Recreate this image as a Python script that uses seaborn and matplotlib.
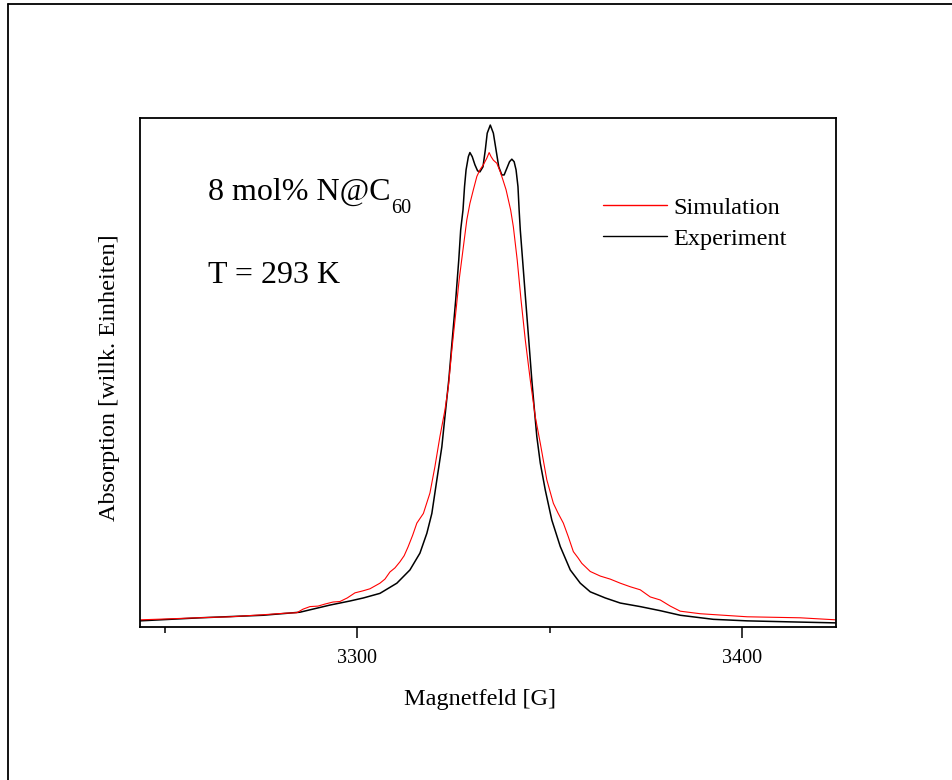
import matplotlib
matplotlib.use("Agg")
import matplotlib.pyplot as plt
from matplotlib.lines import Line2D
import seaborn as sns
import pandas as pd

# EPR absorption spectrum of N@C60 (8 mol%) at room temperature
field_exp = [3243.5, 3259.1, 3275.5, 3285.1, 3292.9, 3298.1, 3301.6, 3305.9, 3310.3,
             3313.7, 3316.3, 3318.1, 3319.4, 3320.7, 3322.0, 3322.8, 3323.8, 3324.7,
             3325.6, 3326.4, 3326.9, 3327.5, 3327.9, 3328.3, 3328.9, 3329.3, 3329.9,
             3330.6, 3331.3, 3331.9, 3332.7, 3333.3, 3333.8, 3334.6, 3335.4, 3336.1,
             3336.8, 3337.6, 3338.2, 3338.9, 3339.6, 3340.2, 3340.8, 3341.3, 3341.8,
             3342.1, 3342.4, 3343.0, 3343.8, 3344.6, 3345.4, 3346.0, 3346.7, 3347.6,
             3348.9, 3350.6, 3352.8, 3355.4, 3358.0, 3360.6, 3364.5, 3368.4, 3373.6,
             3378.8, 3384.0, 3392.6, 3401.4, 3412.6, 3424.5]
absorb_exp = [0.012, 0.018, 0.023, 0.029, 0.043, 0.051, 0.057, 0.066, 0.086,
              0.112, 0.145, 0.184, 0.223, 0.289, 0.354, 0.413, 0.485, 0.564,
              0.642, 0.721, 0.780, 0.819, 0.865, 0.898, 0.924, 0.932, 0.924,
              0.908, 0.896, 0.894, 0.904, 0.937, 0.970, 0.986, 0.970, 0.937,
              0.904, 0.888, 0.888, 0.901, 0.914, 0.919, 0.914, 0.898, 0.865,
              0.819, 0.780, 0.721, 0.642, 0.564, 0.485, 0.433, 0.374, 0.322,
              0.269, 0.210, 0.158, 0.112, 0.086, 0.069, 0.057, 0.047, 0.040,
              0.032, 0.023, 0.015, 0.012, 0.010, 0.008]

field_sim = [3243.5, 3251.3, 3258.3, 3266.9, 3275.5, 3281.2, 3284.3, 3285.9, 3287.7,
             3289.8, 3291.6, 3293.7, 3295.5, 3297.4, 3299.4, 3301.5, 3303.3, 3305.9,
             3307.2, 3308.5, 3309.8, 3311.1, 3312.2, 3313.2, 3314.4, 3315.5, 3317.2,
             3318.9, 3320.2, 3321.5, 3322.8, 3323.7, 3324.6, 3325.7, 3326.5, 3327.5,
             3328.5, 3329.3, 3330.2, 3331.1, 3331.9, 3332.8, 3333.7, 3334.3, 3334.8,
             3335.4, 3336.3, 3337.2, 3337.9, 3338.7, 3339.3, 3339.9, 3340.6, 3341.6,
             3342.6, 3343.7, 3345.0, 3346.3, 3347.6, 3349.3, 3351.0, 3352.2, 3353.6,
             3354.9, 3356.2, 3357.4, 3358.4, 3360.6, 3363.2, 3365.8, 3368.4, 3371.0,
             3373.6, 3376.2, 3378.8, 3381.4, 3384.0, 3389.2, 3401.4, 3415.2, 3424.5]
absorb_sim = [0.014, 0.016, 0.018, 0.020, 0.024, 0.027, 0.028, 0.035, 0.040,
              0.041, 0.045, 0.049, 0.050, 0.057, 0.067, 0.071, 0.075, 0.086,
              0.094, 0.108, 0.116, 0.128, 0.140, 0.157, 0.180, 0.204, 0.223,
              0.263, 0.315, 0.374, 0.426, 0.472, 0.544, 0.623, 0.682, 0.741,
              0.800, 0.832, 0.859, 0.885, 0.898, 0.908, 0.921, 0.932, 0.924,
              0.917, 0.911, 0.894, 0.878, 0.859, 0.839, 0.819, 0.786, 0.721,
              0.642, 0.564, 0.485, 0.413, 0.361, 0.289, 0.243, 0.224, 0.204,
              0.177, 0.148, 0.136, 0.125, 0.109, 0.100, 0.094, 0.086, 0.079,
              0.073, 0.059, 0.053, 0.041, 0.031, 0.026, 0.020, 0.018, 0.014]

legend_labels = ["Simulation", "Experiment"]
xticks_major = [3300, 3400]
xticks_minor = [3250, 3350]
x_range = (3243.5, 3424.5)

sns.set_style("ticks")
plt.rcParams["font.family"] = ["Liberation Serif", "DejaVu Serif"]
plt.rcParams["text.color"] = "black"
plt.rcParams["axes.labelcolor"] = "black"
plt.rcParams["xtick.color"] = "black"
plt.rcParams["ytick.color"] = "black"

fig = plt.figure(figsize=(9.53, 7.80), dpi=100)
ax = fig.add_axes([0.1469, 0.1962, 0.7303, 0.6526])

df_exp = pd.DataFrame({"Magnetfeld": field_exp, "Absorption": absorb_exp})
df_sim = pd.DataFrame({"Magnetfeld": field_sim, "Absorption": absorb_sim})

sns.lineplot(data=df_exp, x="Magnetfeld", y="Absorption", color="black",
             lw=1.1, estimator=None, ax=ax)
sns.lineplot(data=df_sim, x="Magnetfeld", y="Absorption", color="red",
             lw=0.8, estimator=None, ax=ax)

ax.set_xlim(*x_range)
ax.set_ylim(0, 1)
ax.set_xticks(xticks_major)
ax.set_xticks(xticks_minor, minor=True)
ax.set_xticklabels([str(t) for t in xticks_major], fontsize=14.5)
ax.set_yticks([])
ax.tick_params(axis="x", which="major", direction="out", length=8, width=1.1,
               pad=8, color="black")
ax.tick_params(axis="x", which="minor", direction="out", length=4.0, width=1.1,
               color="black")
for sp in ax.spines.values():
    sp.set_linewidth(1.3)
    sp.set_color("black")

ax.set_xlabel("Magnetfeld [G]", fontsize=17.5)
ax.set_ylabel("Absorption [willk. Einheiten]", fontsize=17.5)
ax.xaxis.set_label_coords(0.4885, -0.1218)
ax.yaxis.set_label_coords(-0.0283, 0.49)

sample = ax.text(0.0977, 0.839, "8 mol% N@C", transform=ax.transAxes,
                 fontsize=23, ha="left", va="baseline")
ax.annotate("60", xy=(1, 0), xycoords=sample, xytext=(0.5, -4.6),
            textcoords="offset points", fontsize=14.5, ha="left", va="baseline")
ax.text(0.0977, 0.676, "T = 293 K", transform=ax.transAxes,
        fontsize=23, ha="left", va="baseline")

handles = [Line2D([], [], color="red", lw=1.0), Line2D([], [], color="black", lw=1.0)]
ax.legend(handles, legend_labels, loc="upper left", bbox_to_anchor=(0.665, 0.845),
          frameon=False, fontsize=17.5, handlelength=2.63, handletextpad=0.27,
          labelspacing=0.37, borderpad=0, borderaxespad=0)

# outer frame of the figure
fig.add_artist(Line2D([8 / 953, 8 / 953], [0, 1 - 4 / 780], color="black", lw=1.3))
fig.add_artist(Line2D([8 / 953, 1], [1 - 4 / 780, 1 - 4 / 780], color="black", lw=1.3))

fig.savefig("out.png", dpi=100, facecolor="white")
